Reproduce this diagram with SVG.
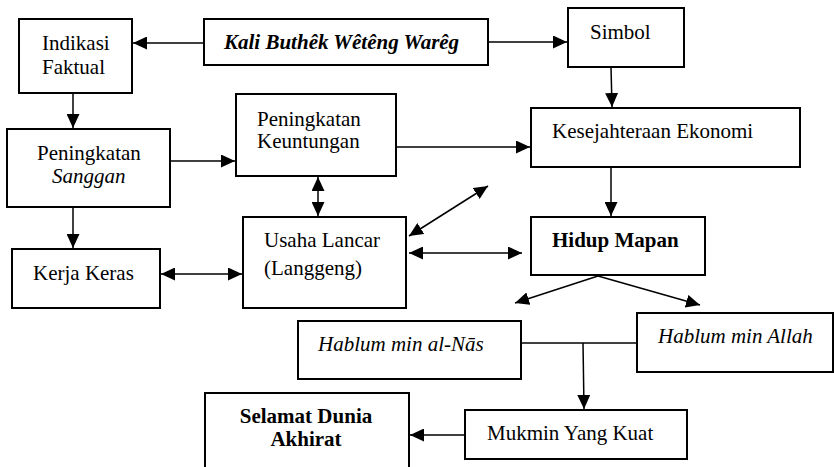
<svg xmlns="http://www.w3.org/2000/svg" width="834" height="467" viewBox="0 0 834 467">
  <style>
    .box { fill: #fff; stroke: #000; stroke-width: 2; }
    .t { font-family: "Liberation Serif", "Times New Roman", serif; font-size: 21px; fill: #000; }
    .i { font-style: italic; }
    .b { font-weight: bold; }
    .c { stroke: #000; stroke-width: 1.5; fill: none; }
    .a { marker-end: url(#head); }
    .d { marker-start: url(#head); marker-end: url(#head); }
  </style>
  <defs>
    <!-- solid triangular arrowhead, reversed at the start of two-way links -->
    <marker id="head" markerUnits="userSpaceOnUse" markerWidth="15" markerHeight="13" refX="14" refY="6.5" orient="auto-start-reverse">
      <path d="M0,0 L14,6.5 L0,13 Z" fill="#000"/>
    </marker>
  </defs>
  <rect width="834" height="467" fill="#fff"/>

  <g id="connectors">
    <line class="c a" x1="204" y1="43" x2="133" y2="43"/>
    <line class="c a" x1="488" y1="42" x2="567" y2="42"/>
    <line class="c a" x1="611" y1="67" x2="612" y2="107"/>
    <line class="c a" x1="73" y1="93" x2="73" y2="128"/>
    <line class="c a" x1="170" y1="161" x2="235" y2="161"/>
    <line class="c a" x1="396" y1="147" x2="530" y2="147"/>
    <line class="c d" x1="318" y1="177" x2="318" y2="216"/>
    <line class="c a" x1="73" y1="207" x2="73" y2="248"/>
    <line class="c d" x1="161" y1="274" x2="242" y2="274"/>
    <line class="c d" x1="409" y1="236" x2="488" y2="186"/>
    <line class="c d" x1="409" y1="253" x2="522" y2="253"/>
    <line class="c a" x1="611" y1="167" x2="611" y2="216"/>
    <line class="c a" x1="598" y1="276" x2="515" y2="303"/>
    <line class="c a" x1="598" y1="276" x2="700" y2="305"/>
    <line class="c" x1="521" y1="343" x2="637" y2="343"/>
    <line class="c a" x1="583" y1="343" x2="584" y2="409"/>
    <line class="c a" x1="465" y1="435" x2="410" y2="435"/>
  </g>

  <g id="indikasi-faktual">
    <rect class="box" x="19" y="19" width="113" height="74"/>
    <text class="t" x="42" y="50">Indikasi</text>
    <text class="t" x="42" y="74">Faktual</text>
  </g>
  <g id="kali-buthek">
    <rect class="box" x="204" y="19" width="284" height="46"/>
    <text class="t i b" x="224" y="49">Kali Buthêk Wêtêng Warêg</text>
  </g>
  <g id="simbol">
    <rect class="box" x="568" y="8" width="116" height="59"/>
    <text class="t" x="590" y="39">Simbol</text>
  </g>
  <g id="peningkatan-sanggan">
    <rect class="box" x="7" y="129" width="163" height="78"/>
    <text class="t" x="37" y="160">Peningkatan</text>
    <text class="t i" x="52" y="183">Sanggan</text>
  </g>
  <g id="peningkatan-keuntungan">
    <rect class="box" x="236" y="94" width="160" height="82"/>
    <text class="t" x="257" y="126">Peningkatan</text>
    <text class="t" x="257" y="148">Keuntungan</text>
  </g>
  <g id="kesejahteraan-ekonomi">
    <rect class="box" x="531" y="108" width="269" height="59"/>
    <text class="t" x="552" y="138">Kesejahteraan Ekonomi</text>
  </g>
  <g id="kerja-keras">
    <rect class="box" x="12" y="249" width="148" height="59"/>
    <text class="t" x="33" y="280">Kerja Keras</text>
  </g>
  <g id="usaha-lancar">
    <rect class="box" x="243" y="217" width="163" height="91"/>
    <text class="t" x="264" y="247">Usaha Lancar</text>
    <text class="t" x="264" y="275">(Langgeng)</text>
  </g>
  <g id="hidup-mapan">
    <rect class="box" x="531" y="217" width="174" height="58"/>
    <text class="t b" x="552" y="247">Hidup Mapan</text>
  </g>
  <g id="hablum-min-al-nas">
    <rect class="box" x="298" y="321" width="223" height="58"/>
    <text class="t i" x="318" y="351">Hablum min al-Nās</text>
  </g>
  <g id="hablum-min-allah">
    <rect class="box" x="637" y="313" width="196" height="59"/>
    <text class="t i" x="658" y="343">Hablum min Allah</text>
  </g>
  <g id="mukmin-yang-kuat">
    <rect class="box" x="465" y="410" width="222" height="49"/>
    <text class="t" x="487" y="440">Mukmin Yang Kuat</text>
  </g>
  <g id="selamat-dunia-akhirat">
    <rect class="box" x="205" y="393" width="204" height="84"/>
    <text class="t b" x="306" y="423" text-anchor="middle">Selamat Dunia</text>
    <text class="t b" x="306" y="446" text-anchor="middle">Akhirat</text>
  </g>
</svg>
